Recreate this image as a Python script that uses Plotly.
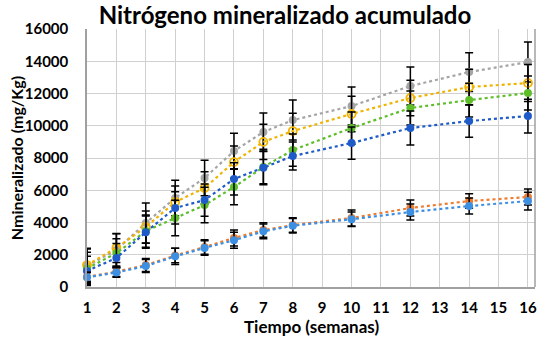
import plotly.graph_objects as go

weeks = [1, 2, 3, 4, 5, 6, 7, 8, 10, 12, 14, 16]

gray = [1300, 2300, 3970, 5520, 6760, 8430, 9610, 10350, 11220, 12460, 13330, 13950]
gold = [1360, 2420, 3720, 5270, 6140, 7750, 9000, 9670, 10730, 11720, 12400, 12650]
green = [1150, 2100, 3470, 4280, 5080, 6200, 7440, 8490, 9860, 11100, 11590, 12030]
darkblue = [1000, 1800, 3400, 4900, 5390, 6700, 7400, 8120, 8930, 9860, 10290, 10600]
orange = [620, 950, 1360, 1950, 2480, 3040, 3530, 3840, 4280, 4900, 5330, 5580]
lightblue = [600, 900, 1300, 1900, 2420, 2900, 3450, 3800, 4200, 4650, 5020, 5330]

err_gray = [1100, 1000, 1240, 1100, 1100, 1100, 1180, 1240, 1180, 1180, 1200, 1240]
err_gold = [1000, 900, 1000, 1000, 1000, 1000, 1100, 1100, 1100, 1100, 1100, 1150]
err_green = [1000, 900, 1000, 1100, 1100, 1100, 1100, 1000, 1000, 1050, 1050, 1050]
err_darkblue = [900, 900, 1000, 1000, 1000, 1000, 1000, 870, 1000, 1050, 1000, 1050]
err_orange = [300, 300, 400, 450, 450, 500, 450, 450, 500, 500, 450, 500]
err_lightblue = [300, 300, 400, 500, 450, 500, 450, 450, 450, 500, 500, 550]

series = [
    ("S1", gray, err_gray, "#A5A5A5", "circle"),
    ("S2", gold, err_gold, "#F0B400", "circle-open"),
    ("S3", green, err_green, "#5DBE2A", "circle"),
    ("S4", darkblue, err_darkblue, "#1F5BC8", "circle"),
    ("S5", orange, err_orange, "#ED7D31", "circle"),
    ("S6", lightblue, err_lightblue, "#3D8FE2", "circle"),
]

fig = go.Figure()
for name, vals, errs, col, sym in series:
    fig.add_trace(go.Scatter(
        x=weeks, y=vals, name=name, mode="lines+markers",
        line=dict(color=col, width=2.2, dash="dot"),
        marker=dict(color=col, size=8, symbol=sym,
                    line=dict(color=col, width=1.8 if sym == "circle-open" else 0)),
        error_y=dict(type="data", array=errs, visible=True, color="black",
                     thickness=1.5, width=4),
        cliponaxis=False,
    ))

font_family = "Lato, 'Open Sans', sans-serif"
fig.update_layout(
    width=543, height=340,
    margin=dict(l=87, r=8, t=29, b=53),
    paper_bgcolor="white", plot_bgcolor="white",
    showlegend=False,
    title=dict(text="<b>Nitrógeno mineralizado acumulado</b>", x=285 / 543, xanchor="center",
               y=1 - 16 / 340, yanchor="middle",
               font=dict(family=font_family, size=24, color="black")),
    font=dict(family=font_family, color="black"),
)
fig.update_xaxes(
    range=[1, 16.24], tickmode="array", tickvals=list(range(1, 17)),
    ticktext=[f"<b>{i}</b>" for i in range(1, 17)],
    tickfont=dict(size=15), showgrid=True, gridcolor="#D0D0D0", gridwidth=1.3,
    showline=True, linecolor="#A0A0A0", linewidth=1.5, mirror=False,
    zeroline=False, ticks="", automargin=False, ticklabelstandoff=6,
)
fig.update_yaxes(
    range=[0, 16000], tickmode="array", tickvals=list(range(0, 16001, 2000)),
    ticktext=[f"<b>{v}</b>" for v in range(0, 16001, 2000)],
    tickfont=dict(size=15), showgrid=True, gridcolor="#D0D0D0", gridwidth=1.3,
    showline=True, linecolor="#A0A0A0", linewidth=1.5,
    zeroline=False, ticks="", automargin=False, ticklabelstandoff=14,
)
fig.add_shape(type="line", xref="paper", yref="paper", x0=1, x1=1, y0=0, y1=1,
              line=dict(color="#A0A0A0", width=1.5))
fig.add_annotation(text="<b>Tiempo (semanas)</b>", xref="paper", yref="paper",
                   x=0.5, y=-0.155, xanchor="center", yanchor="middle",
                   showarrow=False, font=dict(size=17, family=font_family))
fig.add_annotation(text="<b>Nmineralizado (mg/Kg)</b>", xref="paper", yref="paper",
                   x=-0.158, y=0.5, xanchor="center", yanchor="middle", textangle=-90,
                   showarrow=False, font=dict(size=16, family=font_family))

fig.write_html("out.html", config={"displayModeBar": False},
               post_script="document.body.style.margin='0';")
